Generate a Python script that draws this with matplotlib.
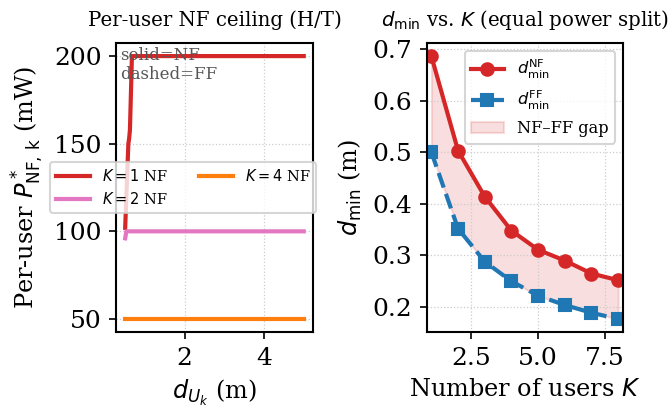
import numpy as np
import matplotlib.pyplot as plt
from matplotlib.ticker import MultipleLocator

# left panel: per-user NF power ceiling vs distance
d_k1 = [0.50, 0.58, 0.60, 0.62, 0.67, 5.0]
p_k1 = [102, 150, 153, 158, 200, 200]
d_k2 = [0.50, 0.53, 5.0]
p_k2 = [96, 100, 100]
d_k4 = [0.50, 5.0]
p_k4 = [50, 50]

# right panel: d_min vs number of users
K = [1, 2, 3, 4, 5, 6, 7, 8]
dmin_nf = [0.686, 0.503, 0.414, 0.348, 0.311, 0.290, 0.265, 0.252]
dmin_ff = [0.500, 0.352, 0.288, 0.250, 0.222, 0.204, 0.189, 0.177]

plt.rcParams.update({
    "font.family": "DejaVu Serif",
    "mathtext.fontset": "dejavusans",
    "font.size": 10,
    "axes.titlesize": 9.5,
    "axes.labelsize": 11.5,
    "xtick.labelsize": 12,
    "ytick.labelsize": 12,
    "legend.fontsize": 7,
    "axes.linewidth": 1.0,
})

fig, axes = plt.subplots(1, 2, figsize=(4.48, 409 / 150), dpi=150)
fig.subplots_adjust(left=0.173, right=0.927, bottom=0.188, top=0.895, wspace=0.58)

ax = axes[0]
ax.plot(d_k1, p_k1, color="#d62728", lw=2, label=r"$K=1$ NF")
ax.plot(d_k2, p_k2, color="#e377c2", lw=2, label=r"$K=2$ NF")
ax.plot(d_k4, p_k4, color="#ff7f0e", lw=2, label=r"$K=4$ NF")
ax.xaxis.set_major_locator(MultipleLocator(2))
ax.yaxis.set_major_locator(MultipleLocator(50))
ax.grid(True, ls=":", lw=0.6, color="#cccccc")
ax.set_title("Per-user NF ceiling (H/T)", pad=8)
ax.set_xlabel(r"$d_{U_k}$ (m)")
ax.set_ylabel(r"Per-user $P^*_{\mathrm{NF,\,k}}$ (mW)")
ax.text(0.02, 0.985, "solid=NF\ndashed=FF", transform=ax.transAxes,
        ha="left", va="top", fontsize=8, color="#555555", linespacing=1.1)
ax.legend(ncol=2, loc="center left", bbox_to_anchor=(-0.335, 0.5),
          borderaxespad=0.0, handlelength=2.3, columnspacing=2.2)

ax = axes[1]
ax.fill_between(K, dmin_ff, dmin_nf, color="#d62728", alpha=0.15, label="NF–FF gap")
ax.plot(K, dmin_nf, "-o", color="#d62728", lw=2, ms=6, label=r"$d_{\min}^{\rm NF}$")
ax.plot(K, dmin_ff, "--s", color="#1f77b4", lw=2, ms=6, label=r"$d_{\min}^{\rm FF}$")
ax.set_xlim(0.82, 8.18)
ax.xaxis.set_major_locator(MultipleLocator(2.5))
ax.yaxis.set_major_locator(MultipleLocator(0.1))
ax.grid(True, ls=":", lw=0.6, color="#cccccc")
ax.set_title(r"$d_{\min}$ vs. $K$ (equal power split)", pad=8)
ax.set_xlabel(r"Number of users $K$")
ax.set_ylabel(r"$d_{\min}$ (m)")
h, l = ax.get_legend_handles_labels()
ax.legend([h[1], h[2], h[0]], [l[1], l[2], l[0]], loc="upper right", fontsize=7.8)

fig.savefig("out.png", dpi=150)
